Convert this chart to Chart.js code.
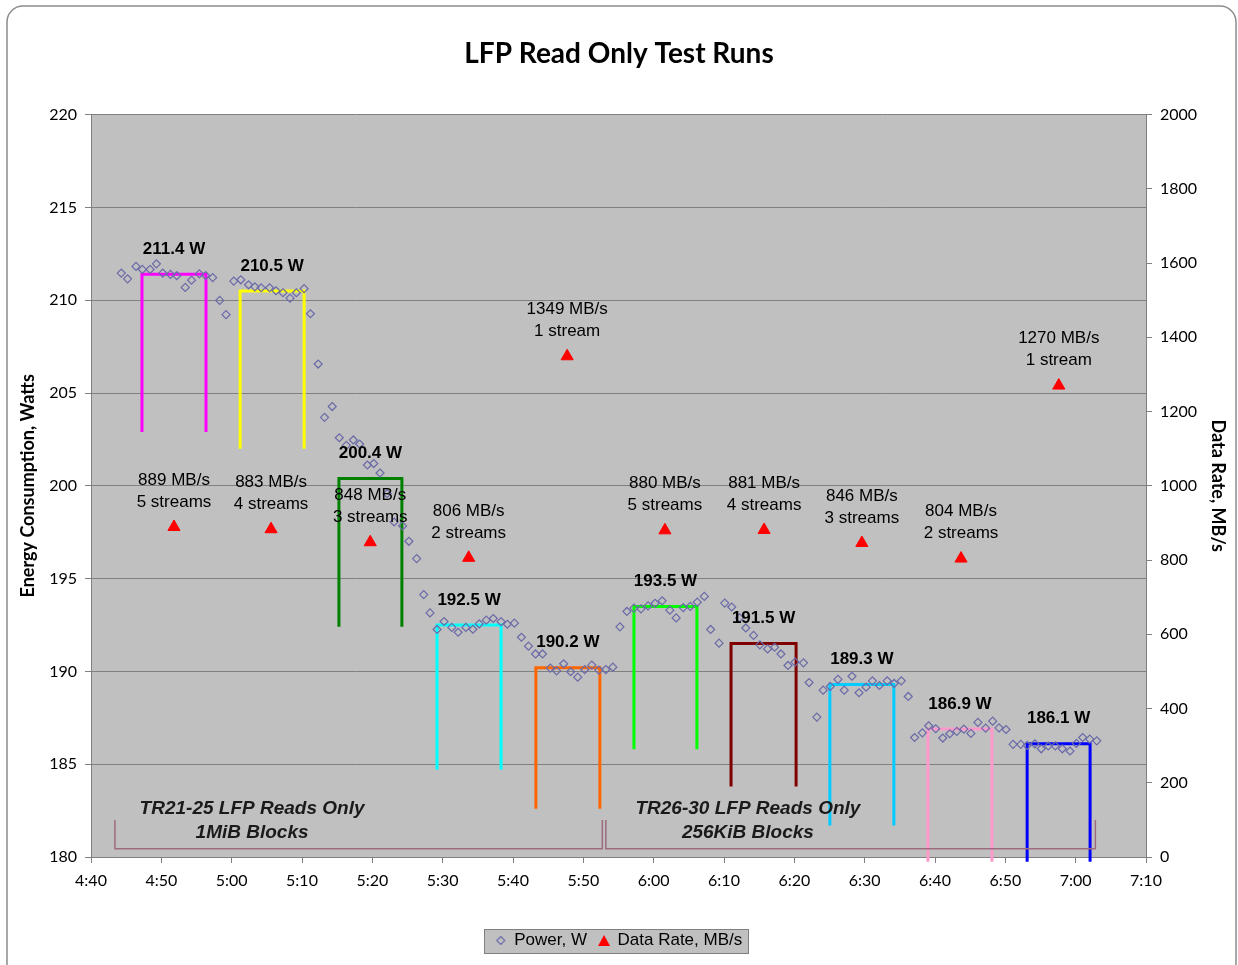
<!DOCTYPE html>
<html>
<head>
<meta charset="utf-8">
<title>LFP Read Only Test Runs</title>
<script src="https://cdn.jsdelivr.net/npm/chart.js@4.4.1/dist/chart.umd.min.js"></script>
<style>
  body { margin: 0; background: #fff; }
  #wrap { width: 1238px; height: 965px; }
</style>
</head>
<body>
<div id="wrap"><canvas id="chart" width="1238" height="965"></canvas></div>
<script>
// power samples: time in minutes after midnight, watts
const powerTimes = [
    284.3, 285.2, 286.4, 287.3, 288.4, 289.3, 290.2, 291.3, 292.2, 293.4,
    294.3, 295.4, 296.3, 297.3, 298.3, 299.2, 300.3, 301.3, 302.4, 303.3,
    304.2, 305.4, 306.3, 307.3, 308.3, 309.2, 310.3, 311.2, 312.3, 313.2,
    314.3, 315.3, 316.3, 317.3, 318.2, 319.3, 320.2, 321.1, 322.1, 323.1,
    324.3, 325.2, 326.3, 327.3, 328.2, 329.2, 330.2, 331.3, 332.2, 333.3,
    334.3, 335.2, 336.2, 337.2, 338.3, 339.2, 340.2, 341.2, 342.2, 343.2,
    344.2, 345.3, 346.2, 347.2, 348.2, 349.2, 350.2, 351.2, 352.2, 353.2,
    354.2, 355.2, 356.2, 357.2, 358.2, 359.2, 360.2, 361.2, 362.3, 363.2,
    364.2, 365.2, 366.2, 367.2, 368.1, 369.3, 370.1, 371.1, 372.2, 373.1,
    374.2, 375.1, 376.2, 377.2, 378.1, 379.1, 380.1, 381.3, 382.1, 383.2,
    384.1, 385.1, 386.2, 387.1, 388.2, 389.2, 390.2, 391.1, 392.1, 393.2,
    394.2, 395.2, 396.2, 397.1, 398.2, 399.1, 400.1, 401.1, 402.1, 403.1,
    404.1, 405.1, 406.1, 407.2, 408.2, 409.1, 410.1, 411.1, 412.2, 413.1,
    414.2, 415.1, 416.1, 417.1, 418.1, 419.2, 420.1, 421.0, 422.0, 423.0
];
const powerWatts = [
    211.46, 211.15, 211.82, 211.66, 211.66, 211.96, 211.46, 211.39, 211.32, 210.69,
    211.08, 211.42, 211.33, 211.22, 209.99, 209.22, 211.03, 211.10, 210.83, 210.72,
    210.67, 210.67, 210.51, 210.40, 210.11, 210.40, 210.62, 209.27, 206.56, 203.69,
    204.27, 202.59, 202.18, 202.47, 202.25, 201.12, 201.20, 200.69, 199.58, 198.05,
    197.84, 197.01, 196.08, 194.14, 193.15, 192.26, 192.69, 192.37, 192.11, 192.37,
    192.27, 192.56, 192.76, 192.85, 192.68, 192.54, 192.60, 191.84, 191.36, 190.94,
    190.94, 190.18, 190.03, 190.41, 189.98, 189.69, 190.10, 190.34, 190.07, 190.10,
    190.23, 192.40, 193.23, 193.41, 193.37, 193.53, 193.67, 193.80, 193.30, 192.88,
    193.44, 193.50, 193.73, 194.04, 192.26, 191.52, 193.68, 193.47, 192.88, 192.34,
    191.94, 191.43, 191.21, 191.30, 190.94, 190.32, 190.50, 190.46, 189.40, 187.54,
    188.99, 189.19, 189.57, 188.99, 189.74, 188.85, 189.15, 189.49, 189.24, 189.49,
    189.35, 189.49, 188.65, 186.44, 186.69, 187.07, 186.91, 186.41, 186.64, 186.77,
    186.89, 186.66, 187.25, 186.94, 187.32, 186.96, 186.87, 186.07, 186.07, 186.01,
    186.10, 185.83, 185.98, 185.99, 185.83, 185.71, 186.12, 186.44, 186.35, 186.26
];

// data rate per test run
const rateTimes = [291.8, 305.6, 319.7, 333.7, 347.7, 361.6, 375.7, 389.6, 403.7, 417.6];
const rateValues = [889, 883, 848, 806, 1349, 880, 881, 846, 804, 1270];
const rateStreams = [5, 4, 3, 2, 1, 5, 4, 3, 2, 1];

// average power brackets per run
const runStart = [287.25, 301.2, 315.25, 329.2, 343.25, 357.2, 371.0, 385.05, 399.0, 413.1];
const runEnd = [296.35, 310.3, 324.2, 338.3, 352.35, 366.15, 380.25, 394.15, 408.1, 422.05];
const runAvg = [211.4, 210.5, 200.4, 192.5, 190.2, 193.5, 191.5, 189.3, 186.9, 186.1];
const runBase = [202.9, 202.0, 192.4, 184.7, 182.6, 185.8, 183.8, 181.7, 179.75, 179.75];
const runColors = ['#ff00ff', '#ffff00', '#008000', '#00ffff', '#ff6600',
                   '#00ff00', '#800000', '#00ccff', '#ff99cc', '#0000ff'];

// block size groups along the bottom
const groupLines = [['TR21-25 LFP Reads Only', '1MiB Blocks'], ['TR26-30 LFP Reads Only', '256KiB Blocks']];
const groupTextAt = [302.9, 373.4];
const groupStart = [283.4, 353.2];
const groupEnd = [352.7, 422.8];

function clock(m) {
    let h = Math.floor(m / 60), mm = Math.round(m % 60);
    return h + ':' + (mm < 10 ? '0' : '') + mm;
}

// small marker images for the legend
function diamondIcon() {
    let c = document.createElement('canvas');
    c.width = 11; c.height = 11;
    let g = c.getContext('2d');
    g.strokeStyle = '#6a6aa8';
    g.lineWidth = 1.2;
    g.beginPath();
    g.moveTo(5.5, 1.5); g.lineTo(9.5, 5.5); g.lineTo(5.5, 9.5); g.lineTo(1.5, 5.5);
    g.closePath();
    g.stroke();
    return c;
}
function triangleIcon() {
    let c = document.createElement('canvas');
    c.width = 14; c.height = 13;
    let g = c.getContext('2d');
    g.fillStyle = '#ff0000';
    g.beginPath();
    g.moveTo(7, 1); g.lineTo(13, 12); g.lineTo(1, 12);
    g.closePath();
    g.fill();
    return c;
}

const decorations = {
    id: 'decorations',
    beforeDraw(chart) {
        let ctx = chart.ctx, a = chart.chartArea;
        ctx.save();
        ctx.strokeStyle = '#8c8c8c';
        ctx.lineWidth = 1.5;
        ctx.beginPath();
        ctx.roundRect(7, 6, 1229, 985, 16);
        ctx.stroke();

        ctx.fillStyle = '#c0c0c0';
        ctx.fillRect(a.left, a.top, a.right - a.left, a.bottom - a.top);

        // box behind the legend
        let hb = chart.legend.legendHitBoxes;
        if (hb && hb.length) {
            let last = hb[hb.length - 1];
            let l = Math.round(hb[0].left - 12), r = Math.round(last.left + last.width + 6);
            let t = Math.round(hb[0].top + hb[0].height / 2 - 12);
            ctx.fillStyle = '#c0c0c0';
            ctx.fillRect(l, t, r - l, 24);
            ctx.strokeStyle = '#808080';
            ctx.lineWidth = 1;
            ctx.strokeRect(l + 0.5, t + 0.5, r - l, 24);
        }
        ctx.restore();
    },
    afterDatasetsDraw(chart) {
        let ctx = chart.ctx, x = chart.scales.x, y = chart.scales.y, y1 = chart.scales.y1;
        ctx.save();
        ctx.textAlign = 'center';
        ctx.textBaseline = 'middle';
        ctx.fillStyle = '#000';

        ctx.font = 'bold 17px "Liberation Sans", Arial, sans-serif';
        runAvg.forEach((w, i) => {
            let cx = x.getPixelForValue((runStart[i] + runEnd[i]) / 2);
            ctx.fillText(w.toFixed(1) + ' W', cx, y.getPixelForValue(w) - 25);
        });

        ctx.font = '17px "Liberation Sans", Arial, sans-serif';
        rateValues.forEach((v, i) => {
            let px = x.getPixelForValue(rateTimes[i]), py = y1.getPixelForValue(v);
            ctx.fillText(v + ' MB/s', px, py - 47);
            ctx.fillText(rateStreams[i] + (rateStreams[i] === 1 ? ' stream' : ' streams'), px, py - 25);
        });

        // brackets under each block size group
        let top = y.getPixelForValue(182), bot = y.getPixelForValue(180.45);
        ctx.strokeStyle = '#9c6b80';
        ctx.lineWidth = 1.5;
        groupLines.forEach((lines, i) => {
            let l = x.getPixelForValue(groupStart[i]), r = x.getPixelForValue(groupEnd[i]);
            ctx.beginPath();
            ctx.moveTo(l, top);
            ctx.lineTo(l, bot);
            ctx.lineTo(r, bot);
            ctx.lineTo(r, top);
            ctx.stroke();
            let tx = x.getPixelForValue(groupTextAt[i]);
            ctx.font = 'italic bold 19px "Liberation Sans", Arial, sans-serif';
            ctx.fillStyle = '#1a1a1a';
            ctx.fillText(lines[0], tx, top - 11);
            ctx.fillText(lines[1], tx, top + 13);
        });
        ctx.restore();
    }
};

function drawChart() {
    let runDatasets = runAvg.map((w, i) => ({
        label: 'run' + i,
        data: [
            {x: runStart[i], y: runBase[i]},
            {x: runStart[i], y: w},
            {x: runEnd[i], y: w},
            {x: runEnd[i], y: runBase[i]}
        ],
        showLine: true,
        borderColor: runColors[i],
        backgroundColor: runColors[i],
        borderWidth: 3,
        pointRadius: 0,
        yAxisID: 'y',
        order: 2,
        clip: false
    }));

    let tickFont = {family: 'Lato', size: 16};
    let titleFont = {family: 'Lato', size: 18, weight: 'bold'};
    let icons = [diamondIcon(), triangleIcon()];

    new Chart(document.getElementById('chart'), {
        type: 'scatter',
        data: {
            datasets: [
                {
                    label: 'Power, W',
                    data: powerTimes.map((t, i) => ({x: t, y: powerWatts[i]})),
                    pointStyle: 'rectRot',
                    pointRadius: 4,
                    borderColor: '#6a6aa8',
                    backgroundColor: 'rgba(0,0,0,0)',
                    borderWidth: 1.2,
                    yAxisID: 'y',
                    order: 1
                },
                {
                    label: 'Data Rate, MB/s',
                    data: rateTimes.map((t, i) => ({x: t, y: rateValues[i]})),
                    pointStyle: 'triangle',
                    pointRadius: 7,
                    borderColor: '#ff0000',
                    backgroundColor: '#ff0000',
                    borderWidth: 1,
                    yAxisID: 'y1',
                    order: 0
                },
                ...runDatasets
            ]
        },
        options: {
            responsive: false,
            animation: false,
            layout: {padding: {left: 0, right: 0, top: 0, bottom: 6}},
            plugins: {
                title: {
                    display: true,
                    text: 'LFP Read Only Test Runs',
                    color: '#000',
                    font: {family: 'Lato', size: 28, weight: 'bold'},
                    padding: {top: 37, bottom: 44}
                },
                legend: {
                    position: 'bottom',
                    labels: {
                        usePointStyle: true,
                        boxWidth: 10,
                        boxHeight: 10,
                        padding: 12,
                        color: '#000',
                        font: {family: 'Liberation Sans', size: 17},
                        generateLabels: chart => Chart.defaults.plugins.legend.labels.generateLabels(chart)
                            .filter(item => item.datasetIndex < 2)
                            .sort((a, b) => a.datasetIndex - b.datasetIndex)
                            .map(item => Object.assign(item, {pointStyle: icons[item.datasetIndex]}))
                    }
                },
                tooltip: {enabled: false}
            },
            scales: {
                x: {
                    type: 'linear',
                    min: 280,
                    max: 430,
                    ticks: {stepSize: 10, callback: v => clock(v), font: tickFont, color: '#000', padding: 8, maxRotation: 0, autoSkip: false},
                    grid: {drawOnChartArea: false, color: '#808080', tickLength: 6},
                    border: {color: '#808080'},
                    afterFit: s => { s.height = 63; }
                },
                y: {
                    position: 'left',
                    min: 180,
                    max: 220,
                    ticks: {stepSize: 5, font: tickFont, color: '#000', padding: 8},
                    grid: {color: '#808080', tickLength: 6},
                    border: {color: '#808080'},
                    title: {display: true, text: 'Energy Consumption, Watts', color: '#000', font: titleFont, padding: {top: 17, bottom: 0}},
                    afterFit: s => { s.width = 91; }
                },
                y1: {
                    position: 'right',
                    min: 0,
                    max: 2000,
                    ticks: {stepSize: 200, font: tickFont, color: '#000', padding: 8, callback: v => String(v)},
                    grid: {drawOnChartArea: false, color: '#808080', tickLength: 6},
                    border: {color: '#808080'},
                    title: {display: true, text: 'Data Rate, MB/s', color: '#000', font: titleFont, padding: {top: 9, bottom: 0}},
                    afterFit: s => { s.width = 92; }
                }
            }
        },
        plugins: [decorations]
    });
}

Promise.all([
    document.fonts.load('bold 28px Lato'),
    document.fonts.load('16px Lato'),
    document.fonts.load('17px "Liberation Sans"'),
    document.fonts.load('bold 17px "Liberation Sans"'),
    document.fonts.load('italic bold 19px "Liberation Sans"')
]).then(drawChart, drawChart);
</script>
</body>
</html>
